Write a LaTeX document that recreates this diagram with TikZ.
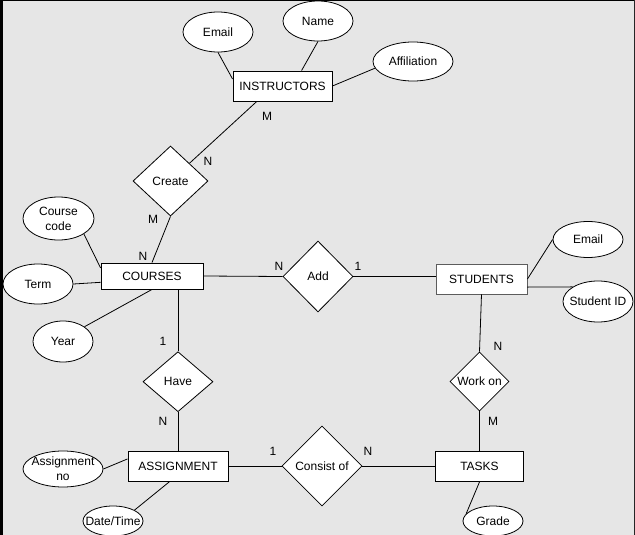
\documentclass[tikz,border=0pt]{standalone}
\usepackage{fontspec}
\setmainfont{Liberation Sans}
\usetikzlibrary{calc,shapes.geometric}
\newcommand{\PicW}{635}
\newcommand{\PicH}{535}
\newcommand{\FrameW}{3}
\definecolor{canvas}{HTML}{E6E6E6}
\definecolor{edgegray}{HTML}{5C5C5C}

\begin{document}
\begin{tikzpicture}[x=1pt,y=-1pt,
  font=\fontsize{12}{15}\selectfont,
  entity/.style={draw, fill=white, line width=0.9pt, minimum height=30pt, inner sep=0pt},
  attrib/.style={draw, ellipse, fill=white, line width=0.8pt, inner sep=0pt, align=center},
  relship/.style={draw, diamond, fill=white, line width=0.8pt, inner sep=0pt},
  card/.style={inner sep=0pt},
  link/.style={line width=0.8pt}
]

% ----- Canvas -----
\useasboundingbox (0,0) rectangle (\PicW,\PicH);
\fill[canvas] (0,0) rectangle (\PicW,\PicH);
\fill[black] (0,0) rectangle (\FrameW,\PicH);
\fill[black] (0,0) rectangle (\PicW,1);
\fill[black!85] (\PicW-1,0) rectangle (\PicW,\PicH);

% ----- Entities -----
\node[entity, minimum width=99pt] (instr) at (282.5,86) {INSTRUCTORS};
\node[entity, minimum width=102pt, minimum height=26pt] (courses) at (152,276) {COURSES};
\node[entity, minimum width=91pt, draw=edgegray] (students) at (481.5,279) {STUDENTS};
\node[entity, minimum width=100pt] (assign) at (178,466) {ASSIGNMENT};
\node[entity, minimum width=88pt] (tasks) at (479.5,466.5) {TASKS};

% ----- Relationships -----
\node[relship, minimum width=75pt, minimum height=70pt] (create) at (170.5,181) {Create};
\node[relship, minimum width=70pt, minimum height=71pt] (add) at (318,276.5) {Add};
\node[relship, minimum width=70pt, minimum height=60pt] (have) at (178,381.7) {Have};
\node[relship, minimum width=59pt, minimum height=59pt] (workon) at (479.5,381.5) {Work on};
\node[relship, minimum width=80pt, minimum height=80pt] (consist) at (322,466) {Consist of};

% ----- Attributes -----
\node[attrib, minimum width=70pt, minimum height=40pt] (iemail) at (218,32) {Email};
\node[attrib, minimum width=70pt, minimum height=40pt] (iname) at (318,21) {Name};
\node[attrib, minimum width=80pt, minimum height=39pt] (iaffil) at (413,61.5) {Affiliation};
\node[attrib, minimum width=71pt, minimum height=43pt] (ccode) at (58.5,218.5) {Course\\code};
\node[attrib, minimum width=70pt, minimum height=40pt] (cterm) at (38,284) {Term};
\node[attrib, minimum width=60pt, minimum height=41pt] (cyear) at (63,341.5) {Year};
\node[attrib, minimum width=80pt, minimum height=36pt, inner xsep=-4pt, inner ysep=-1pt] (ano) at (63,469) {Assignment\\no};
\node[attrib, minimum width=60pt, minimum height=30pt, inner xsep=-8pt] (adate) at (113,521) {Date/Time};
\node[attrib, minimum width=70pt, minimum height=36pt] (semail) at (588,239.5) {Email};
\node[attrib, minimum width=70pt, minimum height=41pt, inner xsep=-5pt] (sid) at (598,301.5) {Student ID};
\node[attrib, minimum width=60pt, minimum height=30pt] (tgrade) at (493,521) {Grade};

% ----- Connectors -----
\draw[link] (iemail.south) -- (instr.172);
\draw[link] (iname.south) -- (instr.39);
\draw[link] (iaffil.190) -- (instr.east);
\draw[link] (instr.211) -- (create.north east);
\draw[link] (create.south) -- (courses.north);
\draw[link] (ccode.south east) -- (courses.171);
\draw[link] (cterm.east) -- (courses.187);
\draw[link] (cyear.north east) -- (courses.south);
\draw[link] (courses.east) -- (add.west);
\draw[link] (add.east) -- (add.east -| students.west);
\draw[link] (semail.west) -- (students.east);
\draw[link] (students.-10) -- (sid.150);
\draw[link] (courses.south -| have.north) -- (have.north);
\draw[link] (have.south) -- (assign.north);
\draw[link] (ano.east) -- (assign.172);
\draw[link] (adate.north east) -- (assign.242);
\draw[link] (assign.east) -- (consist.west);
\draw[link] (consist.east) -- (consist.east -| tasks.west);
\draw[link] (students.south) -- (workon.north);
\draw[link] (workon.south) -- (tasks.north);
\draw[link] (tasks.south) -- (tgrade.165);

% ----- Cardinalities -----
\node[card] (instrM) at (267,116) {M};
\node[card] (createN) at (208,161) {N};
\node[card] (createM) at (153,219) {M};
\node[card] (coursesN) at (143,256) {N};
\node[card] (addN) at (279,266) {N};
\node[card] (addOne) at (358,266) {1};
\node[card] (haveOne) at (163,341) {1};
\node[card] (haveN) at (163,421) {N};
\node[card] (consistOne) at (273,451) {1};
\node[card] (consistN) at (368,451) {N};
\node[card] (workonN) at (498,346) {N};
\node[card] (workonM) at (493,421) {M};

\end{tikzpicture}
\end{document}
